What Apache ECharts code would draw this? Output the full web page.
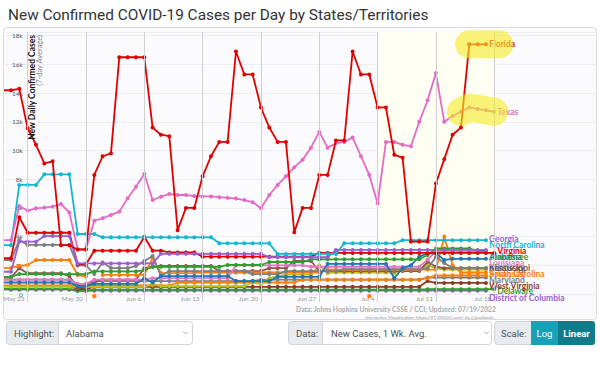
<!DOCTYPE html>
<html><head><meta charset="utf-8">
<script src="https://cdn.jsdelivr.net/npm/echarts@6/dist/echarts.min.js"></script>
<style>html,body{margin:0;padding:0;background:#fff}#c{width:600px;height:386px}</style>
</head><body><div id="c"></div>
<script>
// ---------- DATA ----------
const dates = ['May 20','May 21','May 22','May 23','May 24','May 25','May 26','May 27','May 28','May 29','May 30','May 31',
'Jun 1','Jun 2','Jun 3','Jun 4','Jun 5','Jun 6','Jun 7','Jun 8','Jun 9','Jun 10','Jun 11','Jun 12','Jun 13','Jun 14','Jun 15',
'Jun 16','Jun 17','Jun 18','Jun 19','Jun 20','Jun 21','Jun 22','Jun 23','Jun 24','Jun 25','Jun 26','Jun 27','Jun 28','Jun 29','Jun 30',
'Jul 1','Jul 2','Jul 3','Jul 4','Jul 5','Jul 6','Jul 7','Jul 8','Jul 9','Jul 10','Jul 11','Jul 12','Jul 13','Jul 14','Jul 15','Jul 16','Jul 17','Jul 18'];
const tickLabels = ['May 23','May 30','Jun 6','Jun 13','Jun 20','Jun 27','Jul 4','Jul 11','Jul 18'];
const shadedFrom = 'Jul 4', shadedTo = 'Jul 18';

const florida = [14200,14200,14300,11550,10400,9100,9250,3400,3400,3100,3100,8300,9600,9800,16500,16500,16500,16500,11600,11100,11000,
 4450,6000,6000,8200,9600,10600,10600,16900,15300,15300,13000,11600,10600,10600,4300,6000,6000,8300,8300,10700,10700,
 16900,15300,15300,13000,13000,9700,9500,3650,3650,3650,7700,9400,11100,11600,17400,17400,17400];
const texas = [3760,3760,6130,5810,5970,6020,6090,6270,5690,3120,3120,5110,5280,5510,5740,6670,7480,8360,6550,6780,6970,
 6900,6900,6830,6800,6800,6750,6700,6650,6550,6400,5970,6900,7600,8200,8830,9360,10200,11300,10200,10500,10600,10900,9600,8300,
 6300,10600,10600,10400,10300,12000,13500,15400,12000,12400,12700,13000,12900,12800,12700];
const georgia = [1550,1550,3650,3650,3650,4040,4040,4040,4040,2130,2130,2130,2130,2130,2130,2130,2130,2130,2130,
 2800,2800,2800,2800,2800,2800,2800,2800,2800,2800,2800,2800,2800,2560,2560,2560,2560,2560,2560,2560,2560,
 3070,3070,3070,3070,3070,3070,3070,3070,3070,3070,3070,3070,3070,3070,3070,3070,3070,3070,3070];
const northCarolina = [3400,3400,7600,7600,7600,8340,8340,8340,8340,4180,4180,4180,3950,3950,3950,3950,3950,3950,3950,3950,3950,
 3950,3950,3950,3950,3950,3530,3530,3530,3530,3530,3530,3530,2790,2790,2790,2790,2790,2790,2790,2790,
 3530,3530,3530,3530,3530,3530,3530,3750,3750,3750,3750,3750,3750,3750,3750,3750,3750,3750];
const virginia = [2490,2490,5350,4270,4270,4270,4270,4270,4270,2070,2070,3020,3020,3020,3020,3020,3020,3990,3020,3020,
 2900,2900,2900,2900,2600,2600,2600,2600,2600,2600,2600,2600,2600,2600,2600,2600,2600,2600,
 2860,2860,2860,2860,2860,2860,2860,2860,2860,2860,2860,2860,2860,2860,2860,2860,2860,2860,2860,2860,2860,2860];
const tennessee = [1200,1200,1390,1390,1390,1390,1390,1390,1390,1390,1390,1570,1570,1570,1570,1570,1570,1670,
 1900,1900,1900,1900,1900,1900,1900,1900,1900,2020,2020,2020,2020,2020,2230,2230,2230,2230,2230,
 2420,2420,2420,2420,2420,2420,2420,2420,2420,2420,2420,2420,2420,2420,2720,3170,3170,3170,3170,3170,3000,3000];
const alabama = [800,800,800,800,800,800,800,800,800,550,550,700,700,700,700,700,700,1100,800,
 1250,1250,1250,1250,1250,1250,1250,1250,1250,900,900,900,900,900,1200,1200,1200,1200,1200,1200,
 2100,2100,2100,2100,2100,2100,2100,2100,1100,1800,2000,2600,2840,2840,2370,2450,2450,2450,2450,2450];
const louisiana = [1000,1000,1000,1000,1000,1000,1000,1000,1000,700,700,1000,1000,1000,1000,1000,1000,1000,
 1100,1100,1100,1100,1100,1100,1100,1100,1100,1100,2000,2000,2000,2000,2000,2000,2000,2000,2000,
 1900,1900,1900,1900,1900,1900,1900,1900,1900,1900,1900,1900,1900,1900,2400,2950,2950,2950,2950,2950,2950,2950];
const kentucky = [2370,2370,3760,3420,3420,3420,3420,3420,3420,1990,1990,1390,2200,1810,1810,1810,1950,2300,2650,1250,
 1600,1600,1600,1600,1600,1600,1600,1600,1600,1600,1390,1390,1390,1390,1600,1600,1600,1600,1600,1600,1600,
 1740,1740,1740,1740,1740,1740,1740,1740,1740,1740,1800,2580,2160,1810,1810,1810,1810,1810];
const mississippi = [1150,1150,1800,1450,1450,1450,1450,1450,1250,400,550,800,1000,1000,1000,1000,1000,1800,1900,
 1950,1950,1950,1950,1950,1950,1950,1600,1600,1600,1600,1600,1600,1800,1800,1800,2300,2300,2300,
 1600,1600,1600,1600,1600,1600,1600,1600,1600,1600,1600,1600,1600,2250,1900,1800,1800,1800,1800,1800,1800];
const southCarolina = [1820,1820,1960,2020,2370,2370,2370,2370,2370,1330,1220,null,1330,1330,1330,1330,1330,1330,2500,
 1460,1460,1460,1460,1460,1500,1500,1500,1500,1500,1500,1500,1500,1500,1500,1500,1500,1500,1500,1500,
 1700,1700,1700,1700,1700,1700,1700,1700,1700,1700,1700,1700,1700,1700,4000,2000,1500,1500,1500,1500];
const arkansas = [600,600,600,600,600,600,600,600,600,600,600,600,600,600,600,600,600,600,600,600,600,
 800,800,800,800,800,800,800,800,800,800,800,800,800,800,800,
 1000,1000,1000,1000,1000,1000,1000,1000,1000,1000,1000,1000,1000,1000,1000,1100,1300,1300,1300,1300,1300,1300,1300];
const arkansasDotDates = ['May 31','Jul 3'];
const arkansasDotValues = [-150,-150];
const oklahoma = [500,500,500,500,500,500,500,500,500,500,500,500,500,500,500,500,500,500,700,
 550,550,550,550,550,550,550,550,550,550,550,800,700,1100,1250,1350,1350,1350,1350,2000,1450,
 1500,1500,1500,1500,1500,1500,1500,1450,1700,1700,1700,2000,1800,1700,1700,1700,1700,1700,1700];
const maryland = [1000,1000,1000,1000,1000,1000,1000,1000,1000,700,700,
 900,900,900,900,900,900,900,900,900,900,900,900,900,900,900,900,900,900,900,900,
 1000,1000,1000,1000,1000,1000,1000,1000,1000,1000,1000,1000,1000,1000,1000,1000,1000,1000,1000,1000,
 1150,1150,1150,1150,1150,1150,1150,1150];
const westVirginia = [550,550,550,550,550,550,550,550,550,350,350,
 500,500,500,500,500,500,500,500,500,500,500,500,500,500,500,500,500,500,500,500,
 500,500,500,500,500,500,500,500,500,500,500,500,500,500,500,500,500,500,500,500,
 900,770,770,770,770,770,770,770];
const delaware = [350,350,350,350,350,350,350,350,350,250,250,
 300,300,300,300,300,300,300,300,300,300,300,300,300,300,300,300,300,300,300,300,
 300,300,300,300,300,300,300,300,300,300,300,300,300,300,300,300,300,300,300,300,
 330,330,330,330,330,330,330,330,330];
const districtOfColumbia = [300,300,300,300,300,300,300,300,300,200,200,
 230,230,230,230,230,230,230,230,230,230,230,230,230,230,230,230,230,230,230,230,
 230,230,230,230,230,230,230,230,230,230,230,230,230,230,230,230,230,230,230,230,
 230,230,230,230,230,230,230,230];

// ---------- STYLE ----------
const states = [
 {name:'District of Columbia', data:districtOfColumbia, color:'#9a5fd0', labelY:298},
 {name:'Delaware', data:delaware, color:'#2ca02c', labelY:291},
 {name:'West Virginia', data:westVirginia, color:'#8c3b2f', labelY:286},
 {name:'Maryland', data:maryland, color:'#7f7f7f', labelY:280},
 {name:'Arkansas', data:arkansas, color:'#ff7f0e', labelY:274},
 {name:'Oklahoma', data:oklahoma, color:'#bcbd22', noLabel:true},
 {name:'Mississippi', data:mississippi, color:'#8c564b', labelY:268},
 {name:'South Carolina', data:southCarolina, color:'#ff7f0e', labelY:274},
 {name:'Kentucky', data:kentucky, color:'#7f7f7f', labelY:268, labelColor:'#555'},
 {name:'Louisiana', data:louisiana, color:'#e377c2', labelY:263},
 {name:'Alabama', data:alabama, color:'#1f77b4', labelY:257},
 {name:'Tennessee', data:tennessee, color:'#2ca02c', labelY:257},
 {name:'Virginia', data:virginia, color:'#e00000', labelY:251},
 {name:'Georgia', data:georgia, color:'#9a5fd0', labelY:239},
 {name:'North Carolina', data:northCarolina, color:'#12b8cc', labelY:245},
 {name:'Texas', data:texas, color:'#e36bc6'},
 {name:'Florida', data:florida, color:'#e00000'}
];
const labelFont = 'Lato, "Open Sans", sans-serif';
const idx = d => dates.indexOf(d);
const tickIdx = tickLabels.map(idx);

function toPairs(arr){ return arr.map((v,i)=>[i,v]); }
function lastIndex(arr){ for(let i=arr.length-1;i>=0;i--) if(arr[i]!=null) return i; return -1; }

const series = [];
series.push({
  type:'line', id:'helper', data:[], silent:true, z:1,
  markArea:{silent:true, itemStyle:{color:'#fefef3'}, data:[[{xAxis:idx(shadedFrom)},{xAxis:idx(shadedTo)}]]},
  markLine:{silent:true, symbol:'none', label:{show:false}, lineStyle:{color:'#cfcfd4', width:1, type:'solid'},
    data: tickIdx.map(i=>({xAxis:i}))}
});
states.forEach((s,k)=>{
  series.push({
    type:'line', id:'s'+k, name:s.name, data:toPairs(s.data), z: 3 + k*0.01,
    symbol:'circle', symbolSize:4, showSymbol:true, connectNulls:false,
    lineStyle:{color:s.color, width:1.8}, itemStyle:{color:s.color},
    endLabel:{show:!s.noLabel, formatter:s.name, color:s.labelColor||s.color, fontFamily:labelFont,
      fontWeight:'bold', fontSize:8.5, distance:3},
    emphasis:{disabled:true}
  });
});
series.push({
  type:'line', id:'dots', data: arkansasDotDates.map((d,i)=>[idx(d), arkansasDotValues[i]]),
  symbol:'circle', symbolSize:4.5, showSymbol:true, clip:false,
  lineStyle:{width:0, opacity:0}, itemStyle:{color:'#ff7f0e'}, z:3
});
const fl = lastIndex(florida), tx = lastIndex(texas);
series.push({
  type:'line', id:'hlF', silent:true, symbol:'none', z:10,
  data:[[fl-2,florida[fl-2]],[fl-1,florida[fl-1]],[fl,florida[fl]],[fl+1.6,florida[fl]]],
  lineStyle:{color:'rgba(243,235,40,0.62)', width:28, cap:'round', join:'round'}
});
series.push({
  type:'line', id:'hlT', silent:true, symbol:'none', z:10,
  data:[[tx-4,texas[tx-4]],[tx-3,texas[tx-3]],[tx-2,texas[tx-2]],[tx-1,texas[tx-1]],[tx,texas[tx]]],
  lineStyle:{color:'rgba(243,235,40,0.62)', width:28, cap:'round', join:'round'}
});

const ui = 'Roboto, "Open Sans", sans-serif';
const graphic = [
  {type:'rect', z:-10, shape:{x:3.5,y:27.5,width:593,height:292,r:3}, style:{fill:'#fbfbfe', stroke:'#dcdce0', lineWidth:1}},
  {type:'text', z:50, x:32, y:35, rotation:Math.PI/2, style:{text:'New Daily Confirmed Cases', align:'right', verticalAlign:'middle', font:'bold 8.5px '+labelFont, fill:'#111'}},
  {type:'text', z:50, x:39.5, y:35, rotation:Math.PI/2, style:{text:'(7-day Average)', align:'right', verticalAlign:'middle', font:'7.5px '+labelFont, fill:'#888'}},
  {type:'text', z:50, x:496, y:309, style:{text:'Data: Johns Hopkins University CSSE / CCI; Updated: 07/19/2022', align:'right', verticalAlign:'middle', font:'bold 6.8px '+labelFont, fill:'#aaa'}},
  {type:'text', z:50, x:496, y:316.5, style:{text:'Interactive Visualization: https://91-DIVOC.com/ by @profwade_', align:'right', verticalAlign:'middle', font:'4.6px '+labelFont, fill:'#999'}},
  {type:'rect', shape:{x:6.5,y:321.5,width:52,height:23,r:[3,0,0,3]}, style:{fill:'#e9ecef', stroke:'#ced4da'}},
  {type:'text', x:14, y:333, style:{text:'Highlight:', verticalAlign:'middle', font:'9.5px '+ui, fill:'#495057'}},
  {type:'rect', shape:{x:58.5,y:321.5,width:134,height:23,r:[0,3,3,0]}, style:{fill:'#fff', stroke:'#ced4da'}},
  {type:'text', x:66, y:333, style:{text:'Alabama', verticalAlign:'middle', font:'9.5px '+ui, fill:'#495057'}},
  {type:'polyline', shape:{points:[[183,331.5],[185.5,334],[188,331.5]]}, style:{stroke:'#999', fill:null, lineWidth:0.8}},
  {type:'rect', shape:{x:288.5,y:321.5,width:34,height:23,r:[3,0,0,3]}, style:{fill:'#e9ecef', stroke:'#ced4da'}},
  {type:'text', x:296, y:333, style:{text:'Data:', verticalAlign:'middle', font:'9.5px '+ui, fill:'#495057'}},
  {type:'rect', shape:{x:322.5,y:321.5,width:169,height:23,r:[0,3,3,0]}, style:{fill:'#fff', stroke:'#ced4da'}},
  {type:'text', x:331, y:333, style:{text:'New Cases, 1 Wk. Avg.', verticalAlign:'middle', font:'9.5px '+ui, fill:'#495057'}},
  {type:'polyline', shape:{points:[[484,331.5],[486.5,334],[489,331.5]]}, style:{stroke:'#999', fill:null, lineWidth:0.8}},
  {type:'rect', shape:{x:494.5,y:321.5,width:37,height:23,r:[3,0,0,3]}, style:{fill:'#e9ecef', stroke:'#ced4da'}},
  {type:'text', x:501, y:333, style:{text:'Scale:', verticalAlign:'middle', font:'9.5px '+ui, fill:'#495057'}},
  {type:'rect', shape:{x:531,y:321,width:27,height:24}, style:{fill:'#17a2b8'}},
  {type:'text', x:544.5, y:333, style:{text:'Log', align:'center', verticalAlign:'middle', font:'9.5px '+ui, fill:'#fff'}},
  {type:'rect', shape:{x:558,y:321,width:37,height:24,r:[0,3,3,0]}, style:{fill:'#117a8b'}},
  {type:'text', x:576.5, y:333, style:{text:'Linear', align:'center', verticalAlign:'middle', font:'bold 9.5px '+ui, fill:'#fff'}}
];

const option = {
  animation:false,
  backgroundColor:'#ffffff',
  title:{text:'New Confirmed COVID-19 Cases per Day by States/Territories', left:3, top:2,
    textStyle:{fontFamily:ui, fontSize:15.4, fontWeight:'normal', color:'#333'}},
  grid:{left:4, right:3, top:32, bottom:92},
  xAxis:{type:'value', min:0.37, max:71.33,
    axisLine:{show:false}, splitLine:{show:false},
    axisTick:{show:true, customValues:tickIdx, length:8, lineStyle:{color:'#cfcfd4'}},
    axisLabel:{customValues:tickIdx, formatter:v=>dates[Math.round(v)], align:'right', padding:[0,3,0,0],
      margin:1, fontSize:6.5, color:'#999', fontFamily:labelFont}},
  yAxis:{type:'value', min:0, max:18260, interval:2000, offset:-19,
    axisLine:{show:false}, axisTick:{show:false},
    splitLine:{lineStyle:{color:'#ececf1'}},
    axisLabel:{showMaxLabel:false, margin:2, fontSize:6.5, color:'#555', fontFamily:labelFont,
      formatter:v=> v===0?'0':(v/1000)+'k'}},
  graphic,
  series
};
const chart = echarts.init(document.getElementById('c'), null, {renderer:'svg'});
chart.setOption(option);
const upd = [];
states.forEach((s,k)=>{
  if(s.labelY==null) return;
  const li = lastIndex(s.data);
  const p = chart.convertToPixel({xAxisIndex:0,yAxisIndex:0},[li, s.data[li]]);
  upd.push({id:'s'+k, endLabel:{offset:[0, s.labelY - p[1]]}});
});
chart.setOption({series:upd});
</script></body></html>
